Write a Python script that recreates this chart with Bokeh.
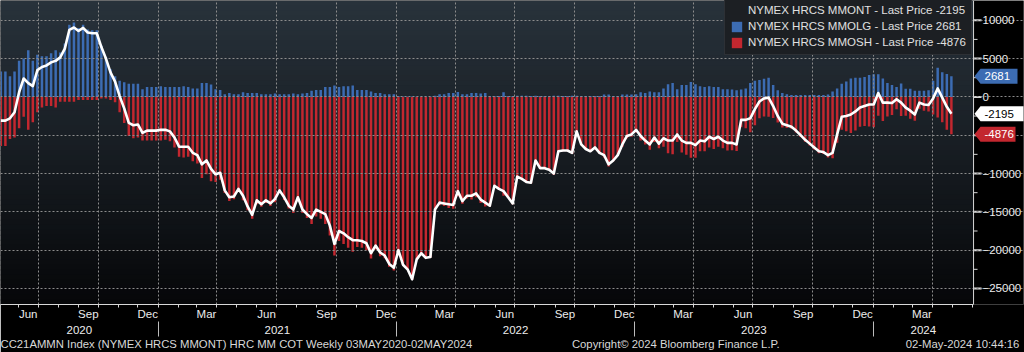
import pandas as pd
from bokeh.plotting import figure
from bokeh.models import (Range1d, DatetimeAxis, FixedTicker, DatetimeTickFormatter,
                          BasicTickFormatter, BoxAnnotation, Legend, LegendItem, Label,
                          PolyAnnotation, ColumnDataSource, Span)
from bokeh.embed import file_html
from bokeh.resources import INLINE

# ---------------- data (weekly COT, managed money, contracts) ----------------
first_week = "2020-05-05"
n_weeks = 209

mm_long = [3300, 3300, 2700, 3300, 4700, 5000, 6100, 4700, 5500, 5300,
           5300, 5700, 6100, 5800, 6950, 9400, 9700, 9000, 9400, 8800,
           8700, 8700, 6700, 5200, 3600, 2700, 2100, 1900, 1700, 1700,
           1700, 1000, 1300, 1300, 1300, 1400,
           1300, 1300, 1300, 1300, 1400, 1300, 1100, 1100, 1800, 1800,
           1600, 1000, 900, 350, 500, 350, 350, 600, 500, 500,
           500, 350, 350, 350, 450, 350, 350, 350, 450, 350,
           450, 500, 800, 900, 900,
           1300, 1300, 1500, 1300, 1400, 1400, 1500, 900, 900, 900,
           700, 500, 500, 350, 350, 350, 100, 50, 50, 50,
           50, 50, 50, 50, 150, 350, 350, 500, 500, 650,
           350, 350, 500, 500, 450,
           500, 100, 100, 100, 600, 100, 100, 150, 150, 150,
           100, 150, 100, 100, 100, 150, 150, 100, 100, 150,
           150, 100, 100, 100, 100, 100, 300, 300, 100, 100,
           300, 300, 300, 350, 600,
           500, 700, 600, 600, 1100, 1650, 1800, 1000, 1550, 1550,
           1950, 1650, 1400, 1300, 1400, 1300, 1300, 1000, 1000, 950,
           850, 950, 1100, 1800, 2100, 2200, 2350, 2500, 1550, 850,
           500, 350, 250, 250, 250,
           250, 250, 250, 250, 250, 300, 700, 1100, 1700, 2000,
           2400, 2500, 2500, 2600, 2850, 2950, 2950, 2400, 1800, 1550,
           1300, 1750, 1050, 1050, 800, 800, 800, 850, 2100, 3800,
           3200, 3000, 2681]

mm_short = [-6400, -6400, -5500, -5300, -4100, -2600, -4300, -3300, -2000, -1400,
            -1200, -1200, -1400, -650, -650, -650, -650, -400, -400, -400,
            -400, -400, -200, -200, -400, -700, -2000, -3400, -5100, -5400,
            -5300, -5700, -5700, -5700, -5700, -5700,
            -5600, -5800, -6600, -7800, -7900, -7800, -8400, -8700, -10600, -10100,
            -11000, -11100, -10800, -12550, -13600, -13350, -12350, -13500, -14800, -15900,
            -14000, -14350, -13850, -14250, -13750, -12550, -13450, -14550, -15150, -13450,
            -15150, -15800, -16600, -15600, -15900,
            -16600, -18100, -20700, -18800, -19200, -19700, -20200, -19600, -19700, -20000,
            -21100, -19900, -20800, -21050, -22150, -22650, -20100, -21950, -22550, -23850,
            -21250, -20450, -21050, -20950, -14850, -14150, -14250, -14500, -14600, -12950,
            -13950, -13250, -13400, -13100, -13850,
            -14300, -14300, -11700, -12100, -12900, -13200, -14000, -10550, -10850, -11250,
            -11300, -8450, -9400, -9400, -9600, -10150, -7250, -7100, -7100, -7450,
            -4650, -6300, -6900, -7200, -6700, -7400, -7900, -9100, -8400, -7700,
            -6500, -5400, -5200, -4650, -5700,
            -6200, -6900, -5900, -6700, -6500, -7350, -7500, -5900, -7250, -7550,
            -7950, -7950, -7100, -7100, -6600, -6800, -6500, -6700, -7000, -6950,
            -7050, -3950, -4100, -4600, -3700, -2800, -2550, -2600, -2750, -3350,
            -4000, -4050, -4150, -4650, -5250,
            -5850, -6350, -6850, -7350, -7450, -7900, -8000, -6000, -4300, -4500,
            -4700, -4400, -3900, -3800, -3850, -3950, -2450, -3150, -2550, -2350,
            -1600, -2500, -2450, -2850, -3100, -1550, -1800, -1900, -2300, -2700,
            -3300, -4300, -4876]

mm_net = [-3100, -3100, -2800, -2000, 600, 2400, 1800, 1400, 3500, 3900,
          4100, 4500, 4700, 5150, 6300, 8750, 9050, 8600, 9000, 8400,
          8300, 8300, 6500, 5000, 3200, 2000, 100, -1500, -3400, -3700,
          -3600, -4700, -4400, -4400, -4400, -4300,
          -4300, -4500, -5300, -6500, -6500, -6500, -7300, -7600, -8800, -8300,
          -9400, -10100, -9900, -12200, -13100, -13000, -12000, -12900, -14300, -15400,
          -13500, -14000, -13500, -13900, -13300, -12200, -13100, -14200, -14700, -13100,
          -14700, -15300, -15800, -14700, -15000,
          -15300, -16800, -19200, -17500, -17800, -18300, -18700, -18700, -18800, -19100,
          -20400, -19400, -20300, -20700, -21800, -22300, -20000, -21900, -22500, -23800,
          -21200, -20400, -21000, -20900, -14700, -13800, -13900, -14000, -14100, -12300,
          -13600, -12900, -12900, -12600, -13400,
          -13800, -14200, -11600, -12000, -12300, -13100, -13900, -10400, -10700, -11100,
          -11200, -8300, -9300, -9300, -9500, -10000, -7100, -7000, -7000, -7300,
          -4500, -6200, -6800, -7100, -6600, -7300, -7600, -8800, -8300, -7600,
          -6200, -5100, -4900, -4300, -5100,
          -5700, -6200, -5300, -6100, -5400, -5700, -5700, -4900, -5700, -6000,
          -6000, -6300, -5700, -5800, -5200, -5500, -5200, -5700, -6000, -6000,
          -6200, -3000, -3000, -2800, -1600, -600, -200, -100, -1200, -2500,
          -3500, -3700, -3900, -4400, -5000,
          -5600, -6100, -6600, -7100, -7200, -7600, -7300, -4900, -2600, -2500,
          -2300, -1900, -1400, -1200, -1000, -1000, 500, -750, -750, -800,
          -300, -750, -1400, -1800, -2300, -750, -1000, -1050, -200, 1100,
          -100, -1300, -2195]

series_names = ["NYMEX HRCS MMONT - Last Price -2195",
                "NYMEX HRCS MMOLG - Last Price 2681",
                "NYMEX HRCS MMOSH - Last Price -4876"]
last_net, last_long, last_short = "-2195", "2681", "-4876"
y_ticks = [-25000, -20000, -15000, -10000, -5000, 0, 5000, 10000]
y_minor = [-22500, -17500, -12500, -7500, -2500, 2500, 7500]
footer_texts = ["CC21AMMN Index (NYMEX HRCS MMONT) HRC MM COT  Weekly 03MAY2020-02MAY2024",
                "Copyright\u00a9 2024 Bloomberg Finance L.P.",
                "02-May-2024 10:44:16"]

# ---------------- layout constants ----------------
W, H = 1024, 352
BOTTOM_H = 47
FRAME_H = H - BOTTOM_H
AXIS_PX = 974          # position of the right value axis line
FONT = "Liberation Sans"
FS = "11.5px"
BLUE = "#3c6cb3"
RED = "#c3272f"
AX = "#d8d8d8"
PX_PER_DAY = 0.6535
x_start = pd.Timestamp("2020-05-04 12:00")
ms = lambda d: float(pd.Timestamp(d).value // 10**6)
px2ms = lambda px: ms(x_start + pd.Timedelta(days=px / PX_PER_DAY))
x0_ms = ms(x_start)
x_end_ms = px2ms(W)
x_axis_ms = px2ms(AXIS_PX)
y_start, y_end = -27090, 12575
span = y_end - y_start
upx = span / FRAME_H   # data units per pixel

dates = pd.date_range(first_week, periods=n_weeks, freq="7D")
src = ColumnDataSource(dict(date=dates, long=mm_long, short=mm_short, net=mm_net))

p = figure(width=W, height=H, x_axis_type="datetime", y_axis_location="right",
           output_backend="svg", toolbar_location=None,
           x_range=Range1d(x0_ms, x_end_ms), y_range=Range1d(y_start, y_end))
p.min_border_left = 0
p.min_border_top = 0
p.min_border_right = 0
p.min_border_bottom = BOTTOM_H
p.outline_line_color = None
p.background_fill_color = "#000000"
p.border_fill_color = "#000000"

# gradient background of the plotting area (bands)
top_c = (40, 50, 59)
bot_c = (6, 7, 9)
NB = 61
for k in range(NB):
    t = k / (NB - 1)
    c = tuple(int(round(top_c[i] + (bot_c[i] - top_c[i]) * t)) for i in range(3))
    hi = y_end - span * k / NB
    lo = y_end - span * (k + 1) / NB - upx
    p.add_layout(BoxAnnotation(top=hi, bottom=lo, right=x_axis_ms,
                               fill_color="#%02x%02x%02x" % c,
                               fill_alpha=1, line_color=None, level="image"))

month_starts = pd.date_range("2020-05-01", "2024-06-01", freq="MS")
quarter_starts = [ms(d) for d in month_starts if d.month in (1, 4, 7, 10)]
month_labels = [ms(d + pd.Timedelta(days=15)) for d in month_starts if d.month in (3, 6, 9, 12)]
month_labels = [m for m in month_labels if m < x_axis_ms]
year_starts = [ms(f"{y}-01-01") for y in (2021, 2022, 2023, 2024)]
bounds = [x0_ms] + year_starts + [x_axis_ms]
year_centers = [(a + b) / 2 for a, b in zip(bounds[:-1], bounds[1:])]

bar_w = 3.8 * 86400000
r_long = p.vbar(x="date", width=bar_w, top="long", bottom=0, source=src,
                fill_color=BLUE, line_color=None, level="underlay")
r_short = p.vbar(x="date", width=bar_w, top=0, bottom="short", source=src,
                 fill_color=RED, line_color=None, level="underlay")
r_net = p.line(x="date", y="net", source=src, line_color="white", line_width=2.6,
               line_join="round", level="annotation")
r_sq = p.vbar(x=[], width=1, top=[], bottom=[], fill_color="white", line_color=None)

# grids
GRID = "#8c8c8c"
p.xgrid.ticker = FixedTicker(ticks=quarter_starts)
p.ygrid.ticker = FixedTicker(ticks=y_ticks)
p.ygrid.bounds = (x0_ms, x_axis_ms)
for g in (p.xgrid, p.ygrid):
    g.grid_line_color = GRID
    g.grid_line_dash = "2 2"
    g.grid_line_width = 1
    g.level = "glyph"

# value axis (right): line + ticks at AXIS_PX, labels to its right
p.add_layout(Span(location=x_axis_ms, dimension="height", line_color=AX, line_width=1))
tick_src = ColumnDataSource(dict(y=y_ticks))
minor_src = ColumnDataSource(dict(y=y_minor))
p.segment(x0=x_axis_ms, x1=px2ms(AXIS_PX + 8), y0="y", y1="y", source=tick_src,
          line_color=AX, line_width=2)
p.segment(x0=x_axis_ms, x1=px2ms(AXIS_PX + 4), y0="y", y1="y", source=minor_src,
          line_color=AX, line_width=1)

ya = p.yaxis[0]
ya.ticker = FixedTicker(ticks=y_ticks)
ya.formatter = BasicTickFormatter(use_scientific=False)
ya.axis_line_color = None
ya.major_tick_line_color = None
ya.minor_tick_line_color = None
ya.major_tick_out = 0
ya.major_tick_in = 0
ya.minor_tick_out = 0
ya.minor_tick_in = 0
ya.major_label_standoff = (AXIS_PX + 9) - W
ya.major_label_text_color = "#ececec"
ya.major_label_text_font = FONT
ya.major_label_text_font_size = FS

fmt = lambda f: DatetimeTickFormatter(milliseconds=f, seconds=f, minsec=f, minutes=f,
                                      hourmin=f, hours=f, days=f, months=f, years=f)
xa = p.xaxis[0]
xa.ticker = FixedTicker(ticks=month_labels, minor_ticks=[ms(d) for d in month_starts])
xa.formatter = fmt("%b")
xa.bounds = (x0_ms, x_axis_ms)
xa.axis_line_color = AX
xa.major_tick_out = 0
xa.major_tick_in = 0
xa.minor_tick_out = 3
xa.minor_tick_in = 0
xa.minor_tick_line_color = AX
xa.major_label_standoff = 0
xa.major_label_text_color = "#ececec"
xa.major_label_text_font = FONT
xa.major_label_text_font_size = FS

yr = DatetimeAxis(ticker=FixedTicker(ticks=year_centers), formatter=fmt("%Y"))
yr.axis_line_color = None
yr.major_tick_out = 0
yr.major_tick_in = 0
yr.minor_tick_out = 0
yr.minor_tick_in = 0
yr.major_label_standoff = 3
yr.major_label_text_color = "#ececec"
yr.major_label_text_font = FONT
yr.major_label_text_font_size = FS
p.add_layout(yr, "below")

# footer line (its minor ticks are the year separators)
foot_centers = [px2ms(c) for c in (236, 676, 963)]
overrides = {}
for t_, s_ in zip(foot_centers, footer_texts):
    overrides[t_] = s_
fa = DatetimeAxis(ticker=FixedTicker(ticks=foot_centers, minor_ticks=year_starts),
                  formatter=fmt("%Y"))
fa.major_label_overrides = overrides
fa.axis_line_color = None
fa.major_tick_out = 0
fa.major_tick_in = 0
fa.minor_tick_out = 0
fa.minor_tick_in = 15
fa.minor_tick_line_color = "#bcbcbc"
fa.major_label_standoff = 1
fa.major_label_text_color = "#d8d8d8"
fa.major_label_text_font = FONT
fa.major_label_text_font_size = "11.3px"
p.add_layout(fa, "below")

# legend
legend = Legend(items=[LegendItem(label=series_names[0], renderers=[r_sq]),
                       LegendItem(label=series_names[1], renderers=[r_long]),
                       LegendItem(label=series_names[2], renderers=[r_short])],
                location=(724, FRAME_H - 56))
legend.background_fill_color = "#1c1f23"
legend.background_fill_alpha = 1
legend.border_line_color = "#3e4247"
legend.label_text_color = "#e0e0e0"
legend.label_text_font = FONT
legend.label_text_font_size = FS
legend.glyph_width = 13
legend.glyph_height = 13
legend.label_height = 14
legend.spacing = 2
legend.padding = 5
legend.label_standoff = 5
legend.margin = 0
p.add_layout(legend)

# value tags on the right axis
def tag(v, text, fill, tcolor, right):
    h = 7.5 * upx
    p.add_layout(PolyAnnotation(xs=[AXIS_PX, AXIS_PX + 6, right, right, AXIS_PX + 6],
                                xs_units="screen",
                                ys=[v, v + h, v + h, v - h, v - h], ys_units="data",
                                fill_color=fill, fill_alpha=1, line_color=None,
                                level="overlay"))
    p.add_layout(Label(x=AXIS_PX + 10, x_units="screen", y=v, y_units="data", text=text,
                       text_color=tcolor, text_font=FONT, text_font_size=FS,
                       text_baseline="middle", level="overlay"))

tag(mm_long[-1], last_long, BLUE, "white", 1017)
tag(mm_net[-1], last_net, "white", "black", 1024)
tag(mm_short[-1], last_short, RED, "white", 1015)

open("out.html", "w").write(file_html(p, INLINE))
